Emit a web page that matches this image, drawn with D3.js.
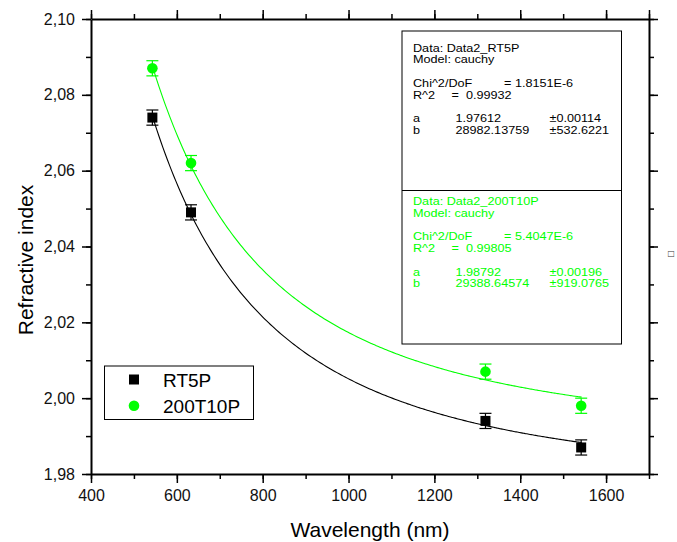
<!DOCTYPE html>
<html><head><meta charset="utf-8">
<script src="https://cdn.jsdelivr.net/npm/d3@7"></script>
<style>body{margin:0;background:#fff}svg{display:block}text{font-family:"Liberation Sans",Arial,sans-serif}</style>
</head><body><svg id="c" width="677" height="542"></svg>
<script>
// ---- data ----
const wavelengths = [543, 633, 1319, 1542];
const rt5p = [2.074, 2.049, 1.994, 1.987];
const t200 = [2.087, 2.062, 2.007, 1.998];
const errRt5p = [0.002, 0.002, 0.002, 0.002];
const errT200 = [0.002, 0.002, 0.002, 0.002];
// Cauchy fit parameters (n = a + b / lambda^2), as printed in the fit boxes
const fitRt5p = {a: 1.97612, b: 28982.13759};
const fitT200 = {a: 1.98792, b: 29388.64574};
const xTicks = [400, 600, 800, 1000, 1200, 1400, 1600];
const yTicks = [1.98, 2.00, 2.02, 2.04, 2.06, 2.08, 2.10];
const seriesNames = ["RT5P", "200T10P"];
const fitBox1 = [["Data: Data2_RT5P"],["Model: cauchy"],[],["Chi^2/DoF","= 1.8151E-6"],["R^2","=  0.99932"],[],["a","1.97612","±0.00114"],["b","28982.13759","±532.6221"]];
const fitBox2 = [["Data: Data2_200T10P"],["Model: cauchy"],[],["Chi^2/DoF","= 5.4047E-6"],["R^2","=  0.99805"],[],["a","1.98792","±0.00196"],["b","29388.64574","±919.0765"]];

const svg = d3.select("#c");
const L = 91, R = 649, T = 19, B = 474;
const x = d3.scaleLinear().domain([400, 1700]).range([L, R]);
const y = d3.scaleLinear().domain([1.98, 2.10]).range([B, T]);
const green = "#00ff00";
const fmt = d => d3.format(".2f")(d).replace(".", ",");

// axes
const minorX = d3.range(400, 1701, 100), minorY = d3.range(1.98, 2.1001, 0.01);
function axisBuild(axisFn, scale, g, major, minor, labels, pad) {
  const a = axisFn(scale).tickValues(major).tickSizeInner(9).tickSizeOuter(0).tickPadding(pad || 4);
  if (labels) a.tickFormat(labels); else a.tickFormat("");
  g.call(a);
  const m = axisFn(scale).tickValues(minor).tickSizeInner(5).tickSizeOuter(0).tickFormat("");
  g.append("g").call(m).select(".domain").remove();
  g.selectAll("line").attr("stroke", "#000").attr("stroke-width", 1.5);
  g.selectAll(".domain").attr("stroke", "#000").attr("stroke-width", 2);
  g.selectAll("text").attr("font-size", 16).attr("fill", "#111");
}
axisBuild(d3.axisBottom, x, svg.append("g").attr("transform", `translate(0,${B})`), xTicks.slice(), minorX, d => d, 7);
axisBuild(d3.axisTop, x, svg.append("g").attr("transform", `translate(0,${T})`), xTicks.concat([1700]), minorX, null);
axisBuild(d3.axisLeft, y, svg.append("g").attr("transform", `translate(${L},0)`), yTicks, minorY, fmt, 7);
axisBuild(d3.axisRight, y, svg.append("g").attr("transform", `translate(${R},0)`), yTicks, minorY, null);

// axis titles
svg.append("text").attr("x", (L + R) / 2).attr("y", 536.5).attr("text-anchor", "middle").attr("font-size", 21).text("Wavelength (nm)");
svg.append("text").attr("transform", `translate(33,260) rotate(-90)`).attr("text-anchor", "middle").attr("font-size", 21).text("Refractive index");
svg.append("text").attr("transform", `translate(674,254) rotate(-90)`).attr("text-anchor", "middle").attr("font-size", 10).attr("fill", "#333").text("□");

// fit curves
function fitLine(p, color) {
  const xs = d3.range(wavelengths[0], wavelengths[3] + 3, 5);
  const line = d3.line().x(d => x(d)).y(d => y(p.a + p.b / (d * d))).curve(d3.curveMonotoneX);
  svg.append("path").attr("d", line(xs)).attr("fill", "none").attr("stroke", color).attr("stroke-width", 1.1);
}
fitLine(fitRt5p, "#000");
fitLine(fitT200, green);

// error bars + markers
function errBars(vals, errs, color) {
  const g = svg.append("g").attr("stroke", color).attr("stroke-width", 1.2);
  wavelengths.forEach((w, i) => {
    const cx = x(w), y0 = y(vals[i] - errs[i]), y1 = y(vals[i] + errs[i]);
    g.append("line").attr("x1", cx).attr("x2", cx).attr("y1", y0).attr("y2", y1);
    g.append("line").attr("x1", cx - 6).attr("x2", cx + 6).attr("y1", y0).attr("y2", y0);
    g.append("line").attr("x1", cx - 6).attr("x2", cx + 6).attr("y1", y1).attr("y2", y1);
  });
}
errBars(rt5p, errRt5p, "#000");
errBars(t200, errT200, green);
svg.append("g").selectAll("rect").data(rt5p).join("rect")
  .attr("x", (d, i) => x(wavelengths[i]) - 5).attr("y", d => y(d) - 5).attr("width", 10).attr("height", 10).attr("fill", "#000");
svg.append("g").selectAll("circle").data(t200).join("circle")
  .attr("cx", (d, i) => x(wavelengths[i])).attr("cy", d => y(d)).attr("r", 5.3).attr("fill", green);

// fit boxes
svg.append("rect").attr("x", 402).attr("y", 31).attr("width", 219.5).attr("height", 313).attr("fill", "#fff").attr("stroke", "#000").attr("stroke-width", 1);
svg.append("line").attr("x1", 402).attr("x2", 621.5).attr("y1", 190.5).attr("y2", 190.5).attr("stroke", "#000");
function fitText(lines, y0, color) {
  const fs = 10.2, sx = 1.24;
  const put = (tx, ty, s) => svg.append("text").attr("transform", `translate(${tx},${ty}) scale(${sx},1)`)
    .attr("font-size", fs).attr("fill", color).attr("xml:space", "preserve").text(s);
  lines.forEach((ln, i) => {
    const yy = y0 + i * 11.75;
    if (ln.length === 0) return;
    put(413, yy, ln[0]);
    if (ln.length === 2) put(ln[0].startsWith("Chi") ? 504 : 451.5, yy, ln[1]);
    else if (ln.length === 3) { put(455.5, yy, ln[1]); put(549.5, yy, ln[2]); }
  });
}
fitText(fitBox1, 51.5, "#000");
fitText(fitBox2, 205, green);

// legend
svg.append("rect").attr("x", 104.5).attr("y", 366).attr("width", 149).attr("height", 53.5).attr("fill", "#fff").attr("stroke", "#000").attr("stroke-width", 1);
svg.append("rect").attr("x", 129).attr("y", 374.5).attr("width", 10).attr("height", 10).attr("fill", "#000");
svg.append("circle").attr("cx", 134).attr("cy", 405.7).attr("r", 5.3).attr("fill", green);
svg.append("text").attr("x", 163).attr("y", 386.5).attr("font-size", 19).text(seriesNames[0]);
svg.append("text").attr("x", 163).attr("y", 413).attr("font-size", 19).text(seriesNames[1]);
</script></body></html>
